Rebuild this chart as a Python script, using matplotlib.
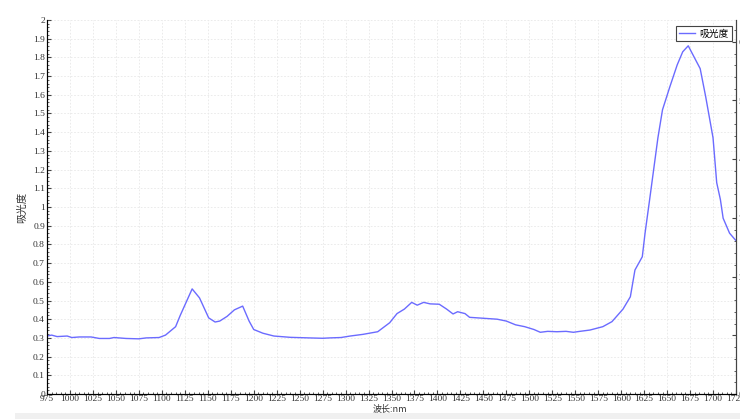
import matplotlib
matplotlib.use("Agg")
import matplotlib.pyplot as plt
from matplotlib.ticker import MultipleLocator
from matplotlib.patches import Rectangle

plt.rcParams['font.family'] = ['Noto Sans CJK SC', 'DejaVu Sans']

wavelength = [975, 980, 986, 997, 1002, 1010, 1023, 1032, 1043, 1048, 1061, 1075, 1083,
              1097, 1104, 1115, 1120, 1133, 1141, 1151, 1158, 1163, 1171, 1179, 1188,
              1195, 1200, 1210, 1222, 1240, 1260, 1275, 1283, 1295, 1305, 1319, 1335,
              1348, 1356, 1364, 1372, 1378, 1385, 1392, 1402, 1410, 1417, 1422, 1430,
              1435, 1450, 1465, 1475, 1485, 1495, 1505, 1512, 1520, 1530, 1540, 1548,
              1555, 1566, 1580, 1590, 1602, 1610, 1615, 1623, 1626, 1631, 1640, 1645,
              1653, 1661, 1667, 1673, 1686, 1692, 1700, 1704, 1708, 1711, 1718, 1725]
absorbance = [0.31, 0.315, 0.307, 0.31, 0.302, 0.305, 0.305, 0.297, 0.297, 0.302, 0.297,
              0.295, 0.30, 0.302, 0.315, 0.36, 0.42, 0.562, 0.514, 0.407, 0.385, 0.39,
              0.415, 0.45, 0.47, 0.39, 0.345, 0.325, 0.31, 0.303, 0.30, 0.298, 0.30,
              0.302, 0.31, 0.319, 0.333, 0.381, 0.43, 0.454, 0.49, 0.475, 0.49, 0.482,
              0.48, 0.454, 0.428, 0.44, 0.43, 0.41, 0.405, 0.40, 0.39, 0.37, 0.36,
              0.345, 0.33, 0.335, 0.333, 0.335, 0.33, 0.335, 0.342, 0.36, 0.387, 0.454,
              0.52, 0.663, 0.734, 0.86, 1.04, 1.37, 1.52, 1.643, 1.76, 1.83, 1.862,
              1.74, 1.59, 1.37, 1.13, 1.04, 0.94, 0.86, 0.82]

series_name = "吸光度"
x_label = "波长:nm"
y_label = "吸光度"

W, H = 740, 419
fig = plt.figure(figsize=(W / 100, H / 100), dpi=100)
fig.patches.append(Rectangle((15 / W, 0), 1, 6 / H, transform=fig.transFigure,
                             facecolor='#f0f0f0', edgecolor='none', zorder=0))

ax = fig.add_axes([47 / W, (H - 394) / H, (736 - 47) / W, (394 - 20) / H])
ax.plot(wavelength, absorbance, color='#6b6bff', lw=1.0, label=series_name)
ax.set_xlim(975, 1725)
ax.set_ylim(0, 2)
ax.xaxis.set_major_locator(MultipleLocator(25))
ax.xaxis.set_minor_locator(MultipleLocator(5))
ax.yaxis.set_major_locator(MultipleLocator(0.1))
ax.yaxis.set_minor_locator(MultipleLocator(0.02))
ax.yaxis.set_major_formatter(matplotlib.ticker.FuncFormatter(
    lambda v, p: '0' if abs(v) < 1e-9 else ('%d' % round(v) if abs(v - round(v)) < 1e-9 else '%.1f' % v)))
ax.grid(True, which='major', color='#e8e8e8', lw=0.6, ls=(0, (2, 2)))
ax.spines['top'].set_visible(False)
for s in ['left', 'bottom', 'right']:
    ax.spines[s].set_color('#444444')
    ax.spines[s].set_linewidth(0.8)
ax.tick_params(which='both', direction='in', colors='#444444',
               labelsize=6.8, labelcolor='#333333', pad=1.5)
ax.tick_params(axis='x', pad=1)
ax.tick_params(which='major', length=3)
ax.tick_params(which='minor', length=1.5)
for lab in ax.get_xticklabels() + ax.get_yticklabels():
    lab.set_family('Liberation Serif')

fig.text(390 / W, 1 - 409 / H, x_label, fontsize=6.5, color='#333333',
         ha='center', va='center')
fig.text(22 / W, 1 - 207 / H, y_label, fontsize=7.5, color='#333333',
         ha='center', va='center', rotation=90)

ax2 = ax.twinx()
ax2.set_ylim(0, 374 / 58.7)
ax2.yaxis.set_major_locator(MultipleLocator(1))
ax2.yaxis.set_minor_locator(MultipleLocator(0.2))
ax2.spines['top'].set_visible(False)
ax2.spines['right'].set_color('#444444')
ax2.spines['right'].set_linewidth(0.8)
ax2.tick_params(which='both', direction='in', colors='#444444',
                labelsize=6.8, labelcolor='#555555', pad=2)
ax2.tick_params(which='major', length=3)
ax2.tick_params(which='minor', length=1.5)
for lab in ax2.get_yticklabels():
    lab.set_family('Liberation Serif')

leg = ax2.legend(*ax.get_legend_handles_labels(), loc='upper right',
                 bbox_to_anchor=(0.994, 0.985), fontsize=7, fancybox=False,
                 framealpha=1, edgecolor='#444444', handlelength=1.6,
                 borderpad=0.3, handletextpad=0.5, borderaxespad=0)
leg.get_frame().set_linewidth(0.8)

fig.savefig('out.png', dpi=100)
